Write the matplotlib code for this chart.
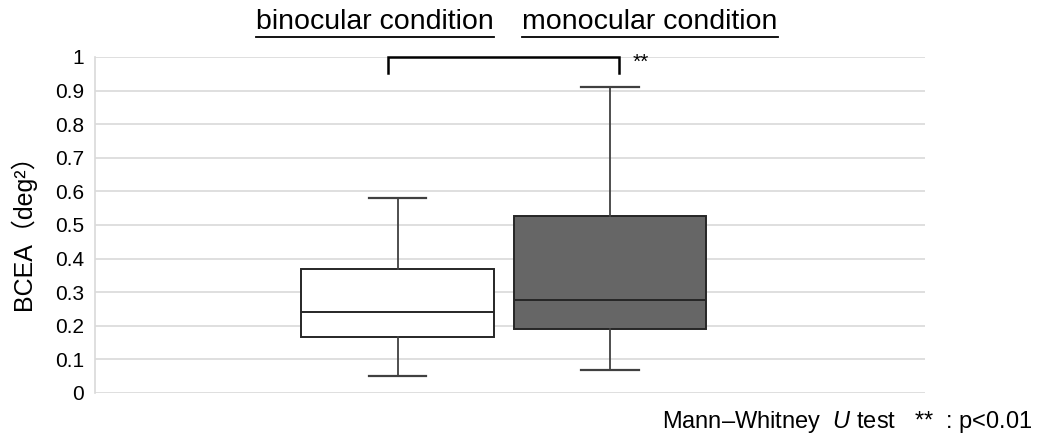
import matplotlib
matplotlib.use("Agg")
import matplotlib.pyplot as plt
from matplotlib.lines import Line2D

plt.rcParams['font.family'] = ['Liberation Sans', 'Noto Sans CJK JP', 'DejaVu Sans']
plt.rcParams['mathtext.fontset'] = 'custom'
plt.rcParams['mathtext.rm'] = 'Liberation Sans'
plt.rcParams['mathtext.it'] = 'Liberation Sans:italic'

# data
conditions = ["binocular condition", "monocular condition"]
whisker_low = [0.052, 0.069]
q1 = [0.166, 0.190]
median = [0.242, 0.277]
q3 = [0.370, 0.527]
whisker_high = [0.579, 0.911]
fills = ["#ffffff", "#666666"]
yticks = [0, 0.1, 0.2, 0.3, 0.4, 0.5, 0.6, 0.7, 0.8, 0.9, 1]
ytick_labels = ["0", "0.1", "0.2", "0.3", "0.4", "0.5", "0.6", "0.7", "0.8", "0.9", "1"]

W, H = 1039, 434
fig = plt.figure(figsize=(W / 100, H / 100), dpi=100)
ax = fig.add_axes([95 / W, 1 - 393 / H, (925 - 95) / W, (393 - 57) / H])

stats = []
for i in range(2):
    stats.append(dict(med=median[i], q1=q1[i], q3=q3[i], whislo=whisker_low[i],
                      whishi=whisker_high[i], fliers=[], label=conditions[i]))
positions = [1, 2]
bp = ax.bxp(stats, positions=positions, widths=0.905, patch_artist=True,
            showfliers=False, manage_ticks=False,
            boxprops=dict(edgecolor="#262626", linewidth=1.4),
            medianprops=dict(color="#262626", linewidth=1.4),
            whiskerprops=dict(color="#404040", linewidth=1.3),
            capprops=dict(color="#404040", linewidth=1.6))
for patch, c in zip(bp['boxes'], fills):
    patch.set_facecolor(c)
for cap in bp['caps']:
    x0, x1 = cap.get_xdata()
    m = (x0 + x1) / 2
    cap.set_xdata([m - 0.136, m + 0.136])

ax.set_xlim(-0.4235, 3.482)
ax.set_ylim(0, 1)
ax.set_yticks(yticks)
ax.set_yticklabels(ytick_labels, fontsize=15)
ax.set_xticks([])
ax.tick_params(axis='y', length=0, pad=8)
ax.yaxis.grid(True, color="#d9d9d9", linewidth=1.2)
ax.set_axisbelow(True)
for s in ["top", "right", "bottom"]:
    ax.spines[s].set_visible(False)
ax.spines["left"].set_color("#d9d9d9")
ax.spines["left"].set_linewidth(1.2)

fig.text(23 / W, 1 - 226 / H, "BCEA（deg²）", fontsize=18, rotation=90,
         ha="center", va="center")

# significance bracket
bx0, bx1, btop, bend = 0.955, 2.042, 1.0, 0.952
ax.plot([bx0, bx0, bx1, bx1], [bend, btop, btop, bend], color="#000000",
        linewidth=1.8, clip_on=False, solid_joinstyle='miter')
ax.text(2.105, 0.985, "**", fontsize=15, ha="left", va="center")

# condition headers (underlined)
fig.canvas.draw()
renderer = fig.canvas.get_renderer()
for cx, label in zip([375, 650], conditions):
    t = fig.text(cx / W, 1 - 29 / H, label, fontsize=20.5, ha="center", va="baseline")
    bb = t.get_window_extent(renderer)
    fig.add_artist(Line2D([bb.x0 / W, bb.x1 / W], [1 - 37 / H, 1 - 37 / H],
                          color="#000000", linewidth=1.3, transform=fig.transFigure))

fig.text(1033 / W, 1 - 428 / H, "Mann–Whitney  $U$ test   **  : p<0.01",
         fontsize=17, ha="right", va="baseline")

fig.savefig("out.png", dpi=100, facecolor="white")
